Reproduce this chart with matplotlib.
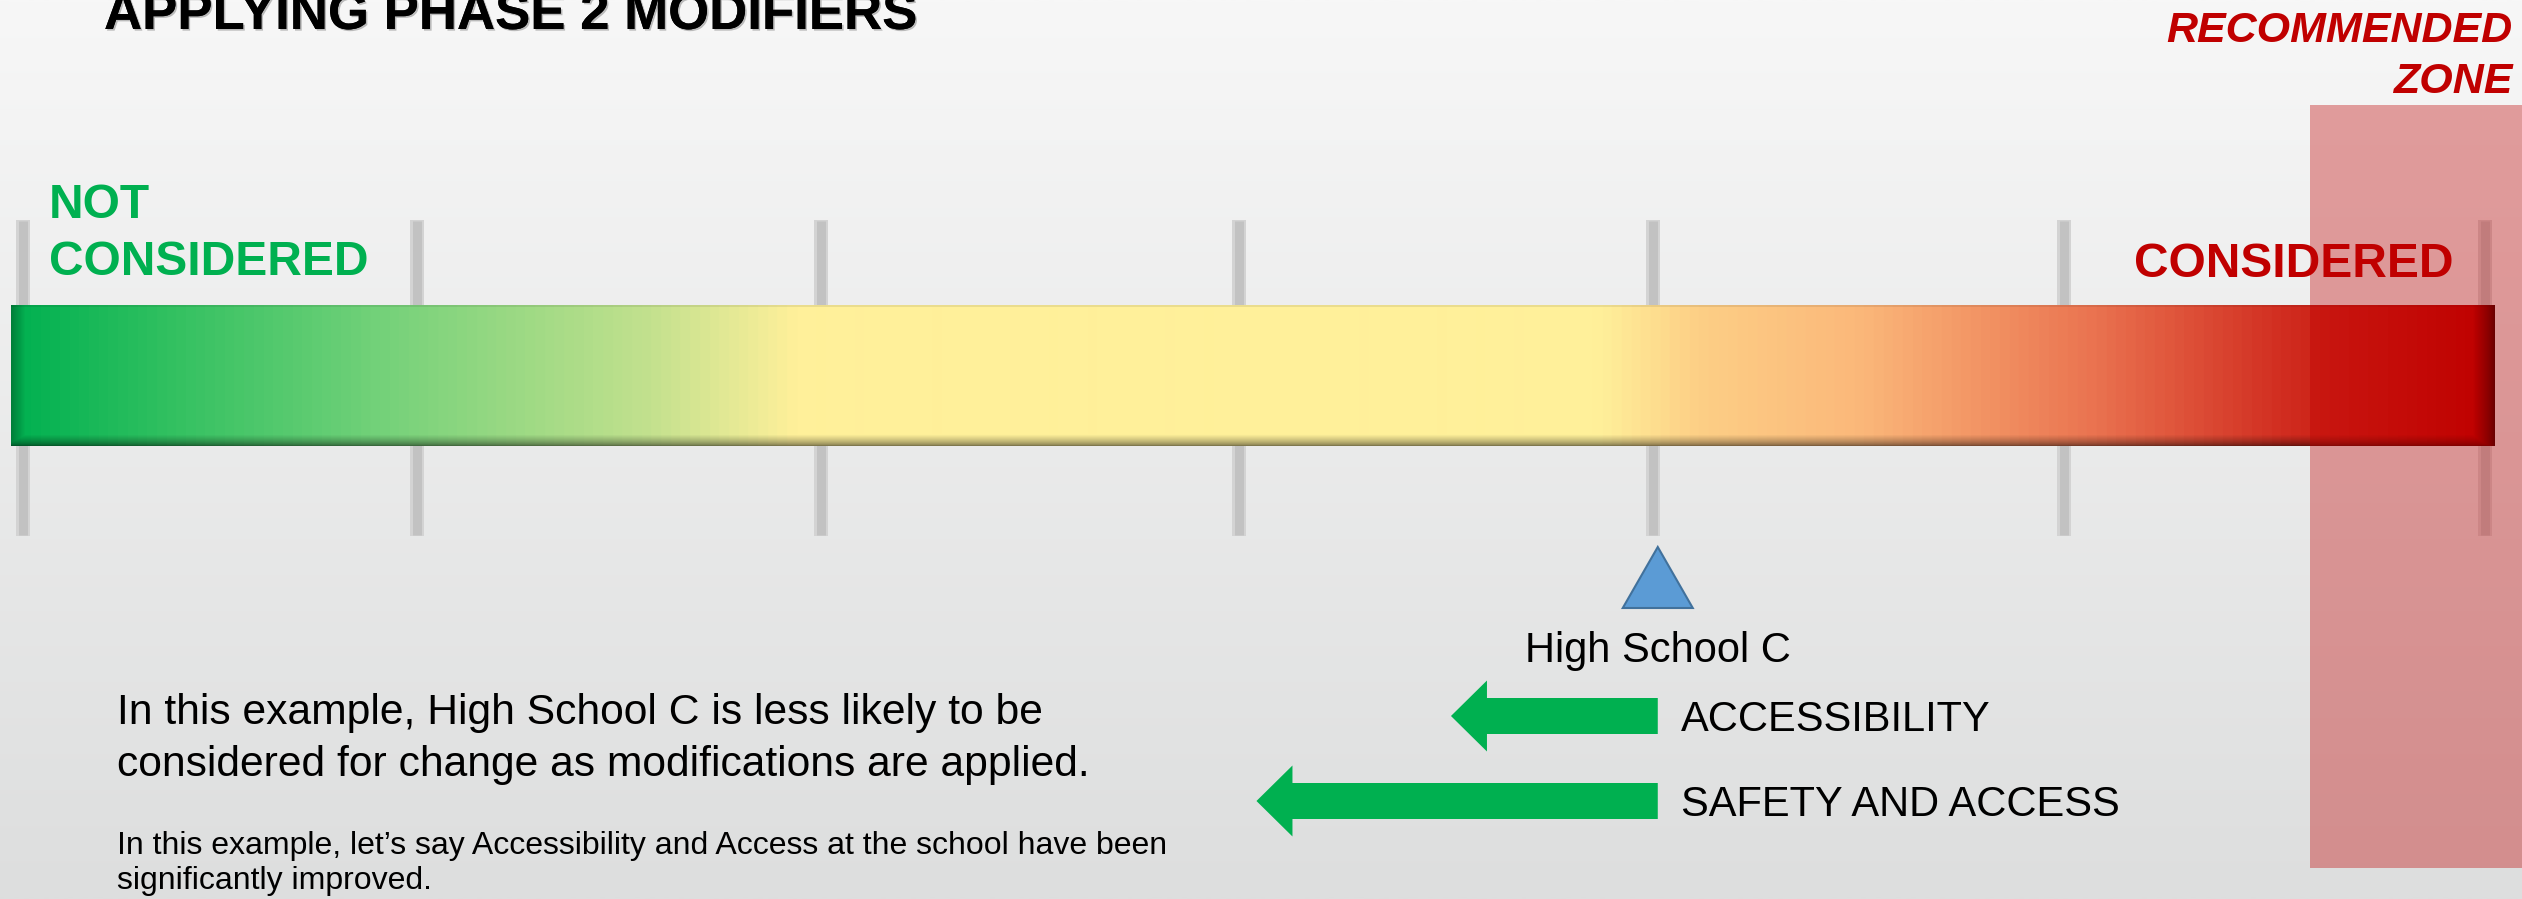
import numpy as np
import matplotlib
matplotlib.use("Agg")
import matplotlib.pyplot as plt
import matplotlib.patheffects as pe
from matplotlib.colors import LinearSegmentedColormap
from matplotlib.patches import Rectangle, Polygon

# --- data (0 = not considered, 100 = considered) ---
tick_positions = [0, 16.0, 32.4, 49.4, 66.2, 82.9, 100]
bar_range = [-0.49, 100.37]
zone_start = 92.9

school_name = "High School C"
school_score = 66.4

modifier_names = ["ACCESSIBILITY", "SAFETY AND ACCESS"]
modifier_shifts = [-8.4, -16.3]

# --- layout / style ---
W, H = 2522, 899
PX_PER_UNIT = 24.62
ORIGIN_PX = 23
GREEN = "#00b050"
RED = "#c00000"
FONT = "Liberation Sans"

grad_stops = [0.0, 0.06, 0.145, 0.255, 0.315, 0.64, 0.68, 0.745, 0.84, 0.92, 1.0]
grad_colors = ["#00b050", "#30c060", "#72d179", "#c2e18e", "#fff09a", "#fff09a",
               "#fdcf86", "#fbb87a", "#ea7350", "#d02a1e", "#c00000"]
bar_cmap = LinearSegmentedColormap.from_list("score", list(zip(grad_stops, grad_colors)))

fig = plt.figure(figsize=(W / 100, H / 100), dpi=100)
ax = fig.add_axes([0, 0, 1, 1])
ax.set_xlim(-ORIGIN_PX / PX_PER_UNIT, (W - ORIGIN_PX) / PX_PER_UNIT)
ax.set_ylim(H, 0)
ax.axis("off")

# background: soft vertical grey gradient
bg = np.linspace(0, 1, 256)[:, None]
top, bot = np.array([247, 247, 247]) / 255, np.array([221, 222, 222]) / 255
bg_img = top + (bot - top) * bg[..., None]
ax.imshow(np.repeat(bg_img, 2, axis=1), extent=[*ax.get_xlim(), H, 0],
          aspect="auto", zorder=0, interpolation="bilinear")

# scale ticks
ax.vlines(tick_positions, 220, 536, color="#d3d3d3", lw=14 * 0.72, zorder=1)
ax.vlines(tick_positions, 221, 535, color="#c2c2c2", lw=9 * 0.72, zorder=1)

# gradient bar with bevel shading
bar_top, bar_bot = 305, 446
ncols, nrows = 2483, 141
u = np.linspace(0, 1, ncols)
rgb = bar_cmap(u)[:, :3]
d_left = np.arange(ncols)[None, :]
d_right = (ncols - 1 - np.arange(ncols))[None, :]
d_bot = (nrows - 1 - np.arange(nrows))[:, None]
d_top = np.arange(nrows)[:, None]
f_left = 0.72 + 0.28 * np.clip(d_left / 14, 0, 1)
f_right = 0.3 + 0.7 * np.clip(d_right / 22, 0, 1) ** 0.8
f_bot = 0.5 + 0.5 * np.clip(d_bot / 11, 0, 1) ** 0.7
shade = np.minimum(np.minimum(f_left, f_right), f_bot)
shade = np.where(d_top < 2, shade * 0.92, shade)
bar_img = np.clip(rgb[None, :, :] * shade[..., None], 0, 1)
ax.imshow(bar_img, extent=[bar_range[0], bar_range[1], bar_bot, bar_top],
          aspect="auto", zorder=2, interpolation="bilinear")

# recommended zone
ax.add_patch(Rectangle((zone_start, 105), ax.get_xlim()[1] - zone_start, 868 - 105,
                       facecolor=RED, alpha=0.36, edgecolor="none", zorder=3))

# school marker
hw = 35 / PX_PER_UNIT
ax.add_patch(Polygon([(school_score, 547), (school_score - hw, 608), (school_score + hw, 608)],
                     closed=True, facecolor="#5b9bd5", edgecolor="#41719c", lw=1.5, zorder=4))
ax.text(school_score, 662, school_name, ha="center", va="baseline",
        fontsize=30, family=FONT, color="black", zorder=5)

# modifier arrows
head_len = 36 / PX_PER_UNIT
for name, shift, yc in zip(modifier_names, modifier_shifts, [716, 801]):
    x0 = school_score
    tip = school_score + shift
    pts = [(x0, yc - 18), (tip + head_len, yc - 18), (tip + head_len, yc - 35.5), (tip, yc),
           (tip + head_len, yc + 35.5), (tip + head_len, yc + 18), (x0, yc + 18)]
    ax.add_patch(Polygon(pts, closed=True, facecolor=GREEN, edgecolor="none", zorder=4))
    ax.text(x0 + 23 / PX_PER_UNIT, yc + 15, name, ha="left", va="baseline",
            fontsize=30, family=FONT, color="black", zorder=5)

# headings
shadow = [pe.withSimplePatchShadow(offset=(1.2, -1.2), shadow_rgbFace="gray", alpha=0.5), pe.Normal()]
fig.text(104 / W, 1 - 29 / H, "APPLYING PHASE 2 MODIFIERS", ha="left", va="baseline",
         fontsize=38, fontweight="bold", family=FONT, color="black", path_effects=shadow)

fig.text(2512 / W, 1 - 42 / H, "RECOMMENDED", ha="right", va="baseline", fontsize=31,
         fontweight="bold", fontstyle="italic", family=FONT, color=RED)
fig.text(2512 / W, 1 - 93 / H, "ZONE", ha="right", va="baseline", fontsize=31,
         fontweight="bold", fontstyle="italic", family=FONT, color=RED)

fig.text(49 / W, 1 - 218 / H, "NOT", ha="left", va="baseline", fontsize=34.5,
         fontweight="bold", family=FONT, color=GREEN)
fig.text(49 / W, 1 - 275 / H, "CONSIDERED", ha="left", va="baseline", fontsize=34.5,
         fontweight="bold", family=FONT, color=GREEN)
fig.text(2454 / W, 1 - 277 / H, "CONSIDERED", ha="right", va="baseline", fontsize=34.5,
         fontweight="bold", family=FONT, color=RED, zorder=5)

# explanation text
para1 = ["In this example, High School C is less likely to be",
         "considered for change as modifications are applied."]
for line, yb in zip(para1, [724, 776]):
    fig.text(117 / W, 1 - yb / H, line, ha="left", va="baseline", fontsize=30.7,
             family=FONT, color="black")

para2 = ["In this example, let\u2019s say Accessibility and Access at the school have been",
         "significantly improved."]
for line, yb in zip(para2, [854, 889]):
    fig.text(117 / W, 1 - yb / H, line, ha="left", va="baseline", fontsize=23,
             family=FONT, color="black")

fig.savefig("out.png", dpi=100)
